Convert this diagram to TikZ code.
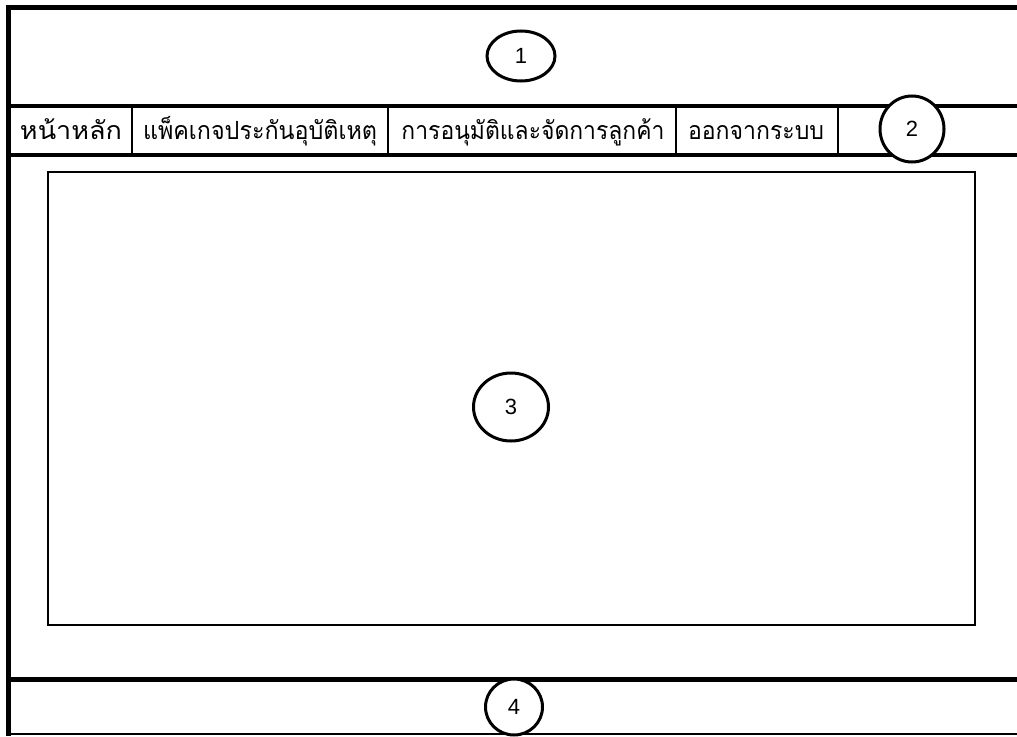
\documentclass[tikz,border=0pt]{standalone}
\usepackage{fontspec}
\usepackage{graphicx}
\usetikzlibrary{shapes.geometric}
\setmainfont{Liberation Sans}
\newfontfamily\thaifont[Script=Thai]{Loma}
\newcommand{\fitw}[2]{\resizebox{#1}{\height}{#2}}
\begin{document}
\begin{tikzpicture}[x=1pt,y=-1pt,
  frameline/.style={line width=5pt},
  barline/.style={line width=4pt},
  sepline/.style={line width=1.3pt},
  marker/.style={draw,line width=3pt,ellipse,fill=white,inner sep=0pt,font=\fontsize{22}{26}\selectfont},
  menuitem/.style={inner sep=0pt,anchor=base,font=\thaifont\fontsize{25}{30}\selectfont}]
\useasboundingbox (0,0) rectangle (1017,736);
% outer frame
\draw[frameline] (8,736) -- (8,7) -- (1020,7);
\draw[line width=1.5pt] (8,734) -- (1020,734);
% menu bar
\draw[barline] (8,106) -- (1020,106);
\draw[barline] (8,155) -- (1020,155);
\draw[frameline] (8,679) -- (1020,679);
% separators
\foreach \x in {132,388,676,838}
  \draw[sepline] (\x,108) -- (\x,153);
% content area
\draw[line width=1.8pt] (48,172) rectangle (975,625);
% menu items
\node[menuitem] (m1) at (71,139) {\fitw{102pt}{หน้าหลัก}};
\node[menuitem] (m2) at (260,139) {\fitw{234pt}{แพ็คเกจประกันอุบัติเหตุ}};
\node[menuitem] (m3) at (533,139) {\fitw{263pt}{การอนุมัติและจัดการลูกค้า}};
\node[menuitem] (m4) at (756,139) {\fitw{136pt}{ออกจากระบบ}};
% markers
\node[marker,minimum width=68pt,minimum height=50pt] (c1) at (521,56) {1};
\node[marker,minimum width=64pt,minimum height=66pt] (c2) at (912,129) {2};
\node[marker,minimum width=75pt,minimum height=68pt] (c3) at (511,407) {3};
\node[marker,minimum width=57pt,minimum height=56pt] (c4) at (514,707) {4};
\end{tikzpicture}
\end{document}
